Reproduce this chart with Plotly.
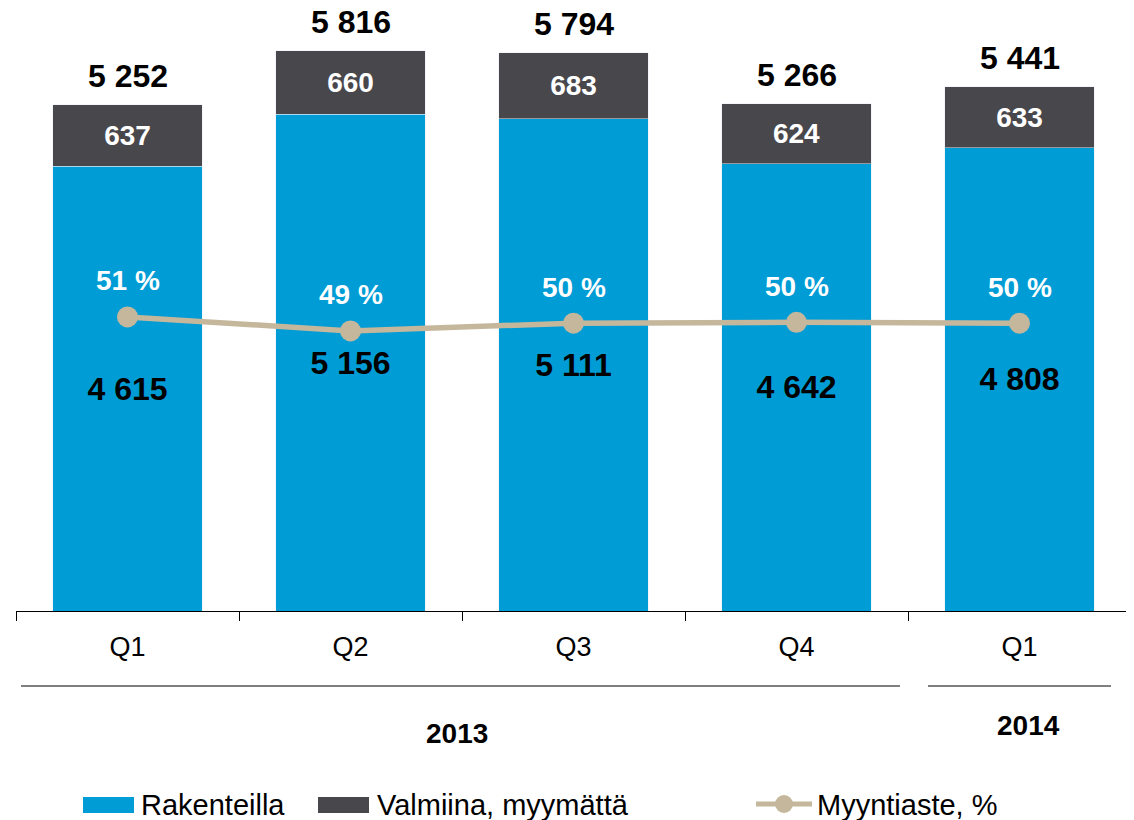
import plotly.graph_objects as go

categories = ["Q1", "Q2", "Q3", "Q4", "Q1 "]
tick_labels = ["Q1", "Q2", "Q3", "Q4", "Q1"]
rakenteilla = [4615, 5156, 5111, 4642, 4808]
valmiina = [637, 660, 683, 624, 633]
totals = [5252, 5816, 5794, 5266, 5441]
myyntiaste = [50.9, 49.1, 50.1, 50.2, 50.1]
years = ["2013", "2014"]

BLUE = "#009CD5"
DARK = "#48474C"
TAN = "#C4B79C"
FONT = "Liberation Sans"

# page offset (browser body margin)
OX, OY = 8, 8
W, H = 1134 - OX, 820 - OY
# plot area in reference pixel coords
PX0, PX1, PY0, PY1 = 16, 1131, 10, 611
L, T = PX0 - OX, PY0 - OY
PW, PH = PX1 - PX0, PY1 - PY0
R, B = W - L - PW, H - T - PH


def px(x):
    return (x - PX0) / PW


def py(y):
    return (PY1 - y) / PH


fig = go.Figure()
fig.add_trace(go.Bar(
    x=categories, y=rakenteilla, name="Rakenteilla", marker_color=BLUE,
    texttemplate="%{y:,.0f}", textposition="inside", insidetextanchor="middle",
    textfont=dict(family=FONT, size=32, color="black", weight="bold"),
    hoverinfo="skip", showlegend=False,
))
fig.add_trace(go.Bar(
    x=categories, y=valmiina, name="Valmiina, myymättä", marker_color=DARK,
    texttemplate="%{y:,.0f}", textposition="inside", insidetextanchor="middle",
    textfont=dict(family=FONT, size=28, color="white", weight="bold"),
    hoverinfo="skip", showlegend=False,
))
fig.add_trace(go.Scatter(
    x=categories, y=myyntiaste, name="Myyntiaste, %", yaxis="y2",
    mode="lines+markers", line=dict(color=TAN, width=5.5),
    marker=dict(size=21, color=TAN), showlegend=False,
))

annotations = []
for c, t in zip(categories, totals):
    annotations.append(dict(
        x=c, y=t, xref="x", yref="y", text=f"{t:,}".replace(",", " "),
        showarrow=False, yshift=29, yanchor="middle",
        font=dict(family=FONT, size=32, color="black", weight="bold"),
    ))
for c, m in zip(categories, myyntiaste):
    annotations.append(dict(
        x=c, y=m, xref="x", yref="y2", text=f"{round(m)} %",
        showarrow=False, yshift=36, yanchor="middle",
        font=dict(family=FONT, size=28, color="white", weight="bold"),
    ))

# year labels
annotations.append(dict(x=px(457), y=py(733), xref="paper", yref="paper", text=years[0],
                        showarrow=False, xanchor="center", yanchor="middle",
                        font=dict(family=FONT, size=28, color="black", weight="bold")))
annotations.append(dict(x=px(1028), y=py(725), xref="paper", yref="paper", text=years[1],
                        showarrow=False, xanchor="center", yanchor="middle",
                        font=dict(family=FONT, size=28, color="black", weight="bold")))

shapes = [
    dict(type="line", xref="paper", yref="paper", x0=px(21), x1=px(900), y0=py(686), y1=py(686),
         line=dict(color="black", width=1)),
    dict(type="line", xref="paper", yref="paper", x0=px(928), x1=px(1111), y0=py(686), y1=py(686),
         line=dict(color="black", width=1)),
]

# manual legend
leg_y = 804
shapes.append(dict(type="rect", xref="paper", yref="paper", x0=px(83), x1=px(134),
                   y0=py(813), y1=py(797), fillcolor=BLUE, line=dict(width=0)))
shapes.append(dict(type="rect", xref="paper", yref="paper", x0=px(318), x1=px(369),
                   y0=py(813), y1=py(797), fillcolor=DARK, line=dict(width=0)))
shapes.append(dict(type="line", xref="paper", yref="paper", x0=px(756), x1=px(812),
                   y0=py(leg_y), y1=py(leg_y), line=dict(color=TAN, width=5)))
shapes.append(dict(type="circle", xref="paper", yref="paper", x0=px(775), x1=px(793),
                   y0=py(leg_y + 9), y1=py(leg_y - 9), fillcolor=TAN, line=dict(width=0)))
for x0, txt in [(139, "Rakenteilla"), (375, "Valmiina, myymättä"), (815, "Myyntiaste, %")]:
    annotations.append(dict(x=px(x0), y=py(805), xref="paper", yref="paper", text=txt,
                            showarrow=False, xanchor="left", yanchor="middle",
                            font=dict(family=FONT, size=29, color="black")))

fig.update_layout(
    width=W, height=H, margin=dict(l=L, r=R, t=T, b=B, pad=0),
    barmode="stack", bargap=0.33, separators=", ",
    plot_bgcolor="white", paper_bgcolor="white",
    font=dict(family=FONT, color="black"),
    xaxis=dict(
        tickmode="array", tickvals=categories, ticktext=tick_labels,
        tickson="boundaries", ticks="outside", ticklen=9, tickcolor="black",
        showline=True, linecolor="black", linewidth=1, showgrid=False,
        tickfont=dict(family=FONT, size=27, color="black"), ticklabelstandoff=12,
        range=[-0.5, 4.5],
    ),
    yaxis=dict(range=[0, PH / 0.09635], visible=False, showgrid=False),
    yaxis2=dict(range=[13.1, 13.1 + PH / 7.78], overlaying="y", visible=False, showgrid=False),
    annotations=annotations, shapes=shapes, showlegend=False,
)

fig.write_html("out.html")
